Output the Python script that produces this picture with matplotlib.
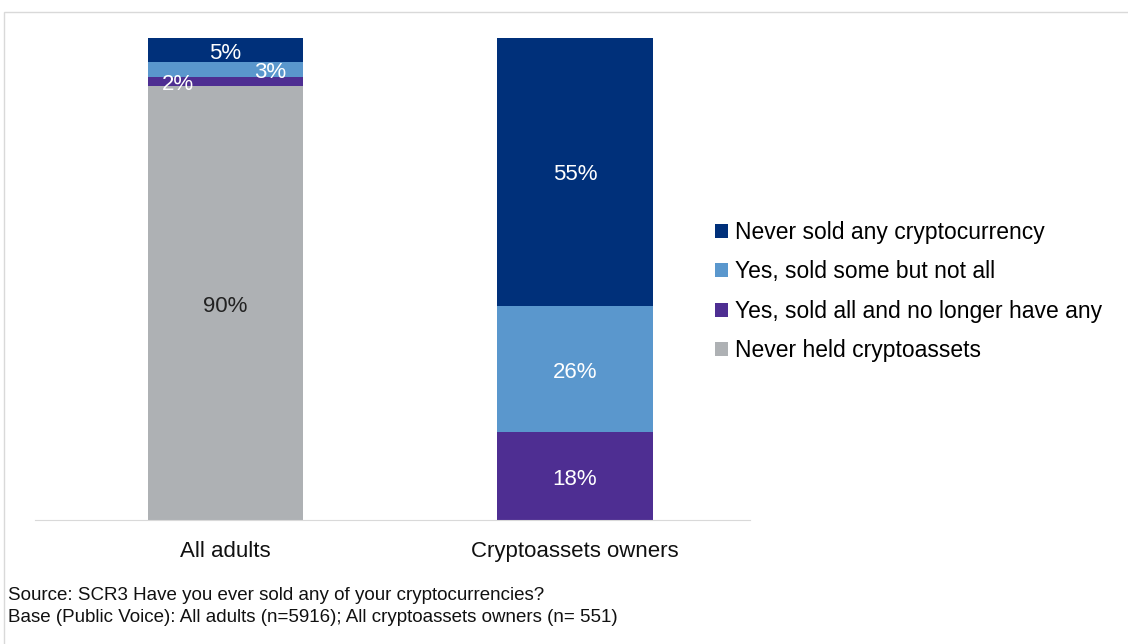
import matplotlib
matplotlib.use("Agg")
import matplotlib.pyplot as plt
from matplotlib.patches import Patch, Rectangle
import numpy as np

plt.rcParams["font.family"] = ["Liberation Sans", "DejaVu Sans"]

groups = ["All adults", "Cryptoassets owners"]
series = ["Never held cryptoassets", "Yes, sold all and no longer have any",
          "Yes, sold some but not all", "Never sold any cryptocurrency"]
never_held = [90, 0]
sold_all = [2, 18]
sold_some = [3, 26]
never_sold = [5, 55]

colors = ["#AEB1B4", "#4E2E92", "#5A97CD", "#00307A"]
label_colors = ["#222222", "white", "white", "white"]

values = np.array([never_held, sold_all, sold_some, never_sold], dtype=float)
shares = values / values.sum(axis=0) * 100  # 100% stacked

fig = plt.figure(figsize=(11.28, 6.44), dpi=100)
ax = fig.add_axes([35 / 1128, 124 / 644, 715 / 1128, 482 / 644])

x = np.arange(len(groups))
bottom = np.zeros(len(groups))
for i, name in enumerate(series):
    ax.bar(x, shares[i], bottom=bottom, width=0.443, color=colors[i], label=name)
    for j in range(len(groups)):
        v = values[i, j]
        if v <= 0:
            continue
        cx, cy = x[j], bottom[j] + shares[i, j] / 2
        # small slices of the first bar get nudged sideways so they don't overlap
        if j == 0 and name == "Yes, sold some but not all":
            cx += 0.13
        elif j == 0 and name == "Yes, sold all and no longer have any":
            cx -= 0.135
        ax.annotate(f"{v:.0f}%", (cx, cy), xytext=(0, -3), textcoords="offset pixels",
                    ha="center", va="center", fontsize=16, color=label_colors[i])
    bottom += shares[i]

ax.set_xlim(-0.543, 1.5)
ax.set_ylim(0, 100)
ax.set_yticks([])
ax.set_xticks(x)
ax.set_xticklabels(groups, fontsize=16, color="#111111")
ax.tick_params(axis="x", length=0, pad=15)
for s in ["top", "right", "left"]:
    ax.spines[s].set_visible(False)
ax.spines["bottom"].set_color("#D9D9D9")

handles = [Patch(facecolor=colors[i], label=series[i]) for i in [3, 2, 1, 0]]
fig.legend(handles=handles, loc="upper left", bbox_to_anchor=(706 / 1128, 1 - 212 / 644),
           frameon=False, fontsize=16.5, handlelength=0.55, handleheight=0.55,
           handletextpad=0.3, labelspacing=0.71, borderaxespad=0)

fig.text(8 / 1128, 1 - 595 / 644, "Source: SCR3 Have you ever sold any of your cryptocurrencies?",
         fontsize=13.5, color="#111111", va="center")
fig.text(8 / 1128, 1 - 617 / 644,
         "Base (Public Voice): All adults (n=5916); All cryptoassets owners (n= 551)",
         fontsize=13.5, color="#111111", va="center")

# thin outer frame
fig.patches.append(Rectangle((4 / 1128, -0.1), 1.2, 1 - 12 / 644 + 0.1,
                             transform=fig.transFigure, fill=False,
                             edgecolor="#D9D9D9", linewidth=1))

fig.savefig("out.png", dpi=100)
